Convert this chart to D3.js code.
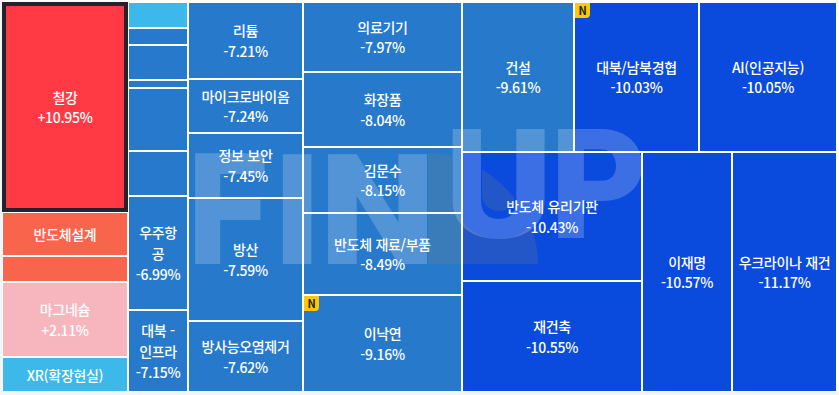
<!DOCTYPE html>
<html lang="ko">
<head>
<meta charset="utf-8">
<script src="https://cdn.jsdelivr.net/npm/d3@7/dist/d3.min.js"></script>
<style>
html,body{margin:0;padding:0;background:#f4f5fb;overflow:hidden}
svg{display:block}
.lbl{font-family:"Noto Sans CJK KR","Noto Sans",sans-serif;font-size:14px;letter-spacing:-0.3px;fill:#fff;text-anchor:middle;font-weight:500}
.mark{font-family:"Noto Sans CJK KR",sans-serif;font-size:11px;font-weight:700;fill:#222;text-anchor:middle}
.wm{font-family:Roboto,sans-serif;font-weight:900;fill:#fff;fill-opacity:.2}
</style>
</head>
<body>
<svg id="chart" width="839" height="395"></svg>
<script>
// ---- data ----
const themes = ["철강","반도체설계","","마그네슘","XR(확장현실)",
  "","","","","","","우주항공","대북 - 인프라",
  "리튬","마이크로바이옴","정보 보안","방산","방사능오염제거",
  "의료기기","화장품","김문수","반도체 재료/부품","이낙연",
  "건설","대북/남북경협","AI(인공지능)",
  "반도체 유리기판","재건축","이재명","우크라이나 재건"];
const changes = ["+10.95%",null,null,"+2.11%",null,
  null,null,null,null,null,null,"-6.99%","-7.15%",
  "-7.21%","-7.24%","-7.45%","-7.59%","-7.62%",
  "-7.97%","-8.04%","-8.15%","-8.49%","-9.16%",
  "-9.61%","-10.03%","-10.05%",
  "-10.43%","-10.55%","-10.57%","-11.17%"];
const weights = [26460,5544,3276,9450,4410,
  1560,1020,2100,480,3780,2700,6840,4920,
  8855,6210,7475,14145,8165,
  11130,11925,10494,13038,15423,
  16800,18750,20700,
  23220,19980,21600,25200];
const tones = ["red","coral","coral","pink","sky",
  "sky","mid","mid","mid","mid","mid","mid","mid",
  "mid","mid","mid","mid","mid",
  "mid","mid","mid","mid","mid",
  "mid","deep","deep",
  "deep","deep","deep","deep"];
const newFlags = ["이낙연","대북/남북경협"];
const selected = ["철강"];
// nesting of the treemap, as indexes into the arrays above
const layoutTree = [
  [0,1,2,3,4],
  [5,6,7,8,9,10,11,12],
  [13,14,15,16,17],
  [18,19,20,21,22],
  [[23,24,25],[[26,27],28,29]]
];
const logoLetters = ["F","I","N","U","P"];

// ---- layout ----
const toNode = t => Array.isArray(t)
  ? {children:t.map(toNode)}
  : {name:themes[t],change:changes[t],value:weights[t],tone:tones[t]};
const root = d3.hierarchy(toNode(layoutTree)).sum(d=>d.value||0);
const alternate = (node,x0,y0,x1,y1)=>
  (node.depth%2===0?d3.treemapDice:d3.treemapSlice)(node,x0,y0,x1,y1);
d3.treemap().tile(alternate).size([833,388]).paddingInner(2)(root);

const colour = d3.scaleOrdinal()
  .domain(["red","coral","pink","sky","mid","deep"])
  .range(["#ff3a45","#f9654c","#f7b6be","#3cb9ea","#277acb","#0a4bdd"]);

const svg = d3.select("#chart");
svg.append("rect").attr("width",839).attr("height",395).attr("fill","#f4f5fb");
svg.append("rect").attr("x",2).attr("y",0).attr("width",837).attr("height",392).attr("fill","#fff");
const g = svg.append("g").attr("transform","translate(3,3)");
const leaves = root.leaves();

g.selectAll("rect.cell").data(leaves).join("rect").attr("class","cell")
  .attr("x",d=>d.x0).attr("y",d=>d.y0)
  .attr("width",d=>d.x1-d.x0).attr("height",d=>d.y1-d.y0)
  .attr("fill",d=>colour(d.data.tone));

// watermark, confined to the cells
const clip = svg.append("clipPath").attr("id","cells");
clip.selectAll("rect").data(leaves).join("rect")
  .attr("x",d=>d.x0+3).attr("y",d=>d.y0+3)
  .attr("width",d=>d.x1-d.x0).attr("height",d=>d.y1-d.y0);
const wm = svg.append("g").attr("clip-path","url(#cells)");
const boxes = [[195,153,265,264],[282,153,312,264],[328,153,428,264],[452,129,545,239],[558,129,642,239]];
const ctx = document.createElement("canvas").getContext("2d");
ctx.font = '900 150px Roboto';
const letterTransform = (ch,b)=>{
  const m = ctx.measureText(ch);
  const inkW = m.actualBoundingBoxRight+m.actualBoundingBoxLeft;
  const inkH = m.actualBoundingBoxAscent+m.actualBoundingBoxDescent;
  const sx=(b[2]-b[0])/inkW, sy=(b[3]-b[1])/inkH;
  return `translate(${b[0]+m.actualBoundingBoxLeft*sx},${b[3]-m.actualBoundingBoxDescent*sy}) scale(${sx},${sy})`;
};
// the darker swoosh lies behind the letters, so the U cuts it out
const mask = svg.append("mask").attr("id","noU").attr("maskUnits","userSpaceOnUse")
  .attr("x",0).attr("y",0).attr("width",839).attr("height",395);
mask.append("rect").attr("width",839).attr("height",395).attr("fill","#fff");
mask.append("path").attr("fill","#000")
  .attr("d","M452 129H482V195A16.5 16 0 0 0 515 195V129H545V192A46.5 47 0 0 1 452 192Z");
wm.append("path")
  .attr("d","M428 264V153C478 153 538 200 538 264Z")
  .attr("mask","url(#noU)")
  .attr("fill","#80807a").attr("fill-opacity",.22);
logoLetters.forEach((ch,i)=>{
  wm.append("text").attr("class","wm").attr("font-size",150)
    .attr("transform",letterTransform(ch,boxes[i]))
    .text(ch);
});

// frame around the selected cell
g.selectAll("rect.sel").data(leaves.filter(d=>selected.includes(d.data.name))).join("rect")
  .attr("class","sel").attr("fill","none").attr("stroke","#222429").attr("stroke-width",4)
  .attr("x",d=>d.x0+1).attr("y",d=>d.y0+1)
  .attr("width",d=>d.x1-d.x0-2).attr("height",d=>d.y1-d.y0-2);

// labels
ctx.font = '500 14px "Noto Sans CJK KR"';
const lineH = 20.7;
function wrap(s,w){
  const out=[];let cur="";
  const fits=t=>ctx.measureText(t).width-0.3*t.length<=w;
  s.split(" ").forEach(word=>{
    const trial=cur?cur+" "+word:word;
    if(fits(trial)){cur=trial;return;}
    if(cur){out.push(cur);cur="";}
    for(const c of word){
      if(fits(cur+c))cur+=c; else {out.push(cur);cur=c;}
    }
  });
  if(cur)out.push(cur);
  return out;
}
leaves.filter(d=>d.data.name).forEach(d=>{
  const lines=wrap(d.data.name,d.x1-d.x0-10);
  if(d.data.change)lines.push(d.data.change);
  const cx=(d.x0+d.x1)/2, cy=(d.y0+d.y1)/2;
  const t=g.append("text").attr("class","lbl");
  lines.forEach((l,i)=>{
    t.append("tspan").attr("x",cx)
     .attr("y",cy+(i-(lines.length-1)/2)*lineH+6).text(l);
  });
});

// "N" badges
const badge = g.selectAll("g.badge").data(leaves.filter(d=>newFlags.includes(d.data.name))).join("g")
  .attr("class","badge").attr("transform",d=>`translate(${d.x0},${d.y0})`);
badge.append("path").attr("d","M0 0H15V11A4 4 0 0 1 11 15H0Z").attr("fill","#ffc800");
badge.append("text").attr("class","mark").attr("x",7.5).attr("y",11.5).text("N");
</script>
</body>
</html>
